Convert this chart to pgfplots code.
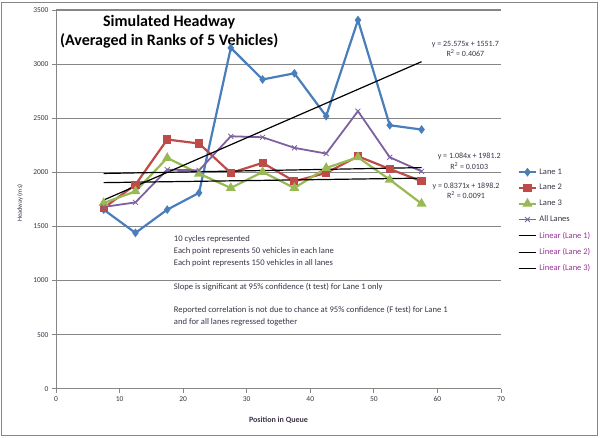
\documentclass[border=0pt]{standalone}
\usepackage{pgfplots}
\pgfplotsset{compat=1.18}
\usepackage{fontspec}
\setmainfont{Carlito}
\definecolor{laneA}{RGB}{74,126,187}
\definecolor{laneB}{RGB}{190,75,72}
\definecolor{laneC}{RGB}{152,185,84}
\definecolor{laneAll}{RGB}{125,96,160}
\definecolor{gridc}{RGB}{134,134,134}
\definecolor{legtxt}{RGB}{150,50,150}
\definecolor{txt}{RGB}{60,50,70}
\begin{document}
\begin{tikzpicture}
\begin{axis}[
  scale only axis, width=445pt, height=378.7pt,
  xmin=0, xmax=70, ymin=0, ymax=3500,
  xtick={0,10,...,70}, ytick={0,500,...,3500},
  axis x line=bottom, axis y line=left,
  axis line style={gridc, line width=1pt, -},
  x axis line style={-}, y axis line style={-},
  ymajorgrids, major grid style={gridc, line width=1.2pt},
  tick style={gridc, line width=0.8pt},
  major tick length=4pt,
  tick align=outside,
  /pgf/number format/assume math mode=true,
  /pgf/number format/1000 sep={},
  ticklabel style={font=\fontsize{7.5}{9}\selectfont, text=txt},
  xlabel={\textbf{Position in Queue}},
  xlabel style={at={(axis description cs:0.5,-0.082)}, anchor=center, font=\fontsize{8}{10}\selectfont, text=txt},
  ylabel={Headway (ms)},
  ylabel style={at={(axis description cs:-0.081,0.49)}, anchor=center, font=\fontsize{6.5}{8}\selectfont, text=txt},
  legend style={at={(1.03,0.592)}, anchor=north west, draw=none, fill=none,
    font=\fontsize{8.5}{10}\selectfont, row sep=4.7pt, text=txt},
  legend cell align=left,
  legend image code/.code={\draw[#1] (0cm,0cm) -- (0.62cm,0cm); \draw[#1,mark repeat=2,mark phase=2] plot coordinates {(0cm,0cm) (0.31cm,0cm) (0.62cm,0cm)};},
  every axis plot/.append style={line width=2.2pt},
  clip=false,
]
\addplot[laneA, mark=diamond*, mark size=2.6pt, mark options={solid, fill=laneA}] coordinates {
(7.5,1655) (12.5,1440) (17.5,1655) (22.5,1810) (27.5,3150) (32.5,2858)
(37.5,2915) (42.5,2519) (47.5,3407) (52.5,2435) (57.5,2395)};
\addlegendentry{Lane 1}
\addplot[laneB, mark=square*, mark size=3pt, mark options={solid, fill=laneB}] coordinates {
(7.5,1670) (12.5,1886) (17.5,2303) (22.5,2266) (27.5,1994) (32.5,2087)
(37.5,1917) (42.5,1994) (47.5,2148) (52.5,2031) (57.5,1917)};
\addlegendentry{Lane 2}
\addplot[laneC, mark=triangle*, mark size=3.6pt, mark options={solid, fill=laneC}] coordinates {
(7.5,1716) (12.5,1824) (17.5,2133) (22.5,1988) (27.5,1855) (32.5,2003)
(37.5,1855) (42.5,2040) (47.5,2139) (52.5,1932) (57.5,1710)};
\addlegendentry{Lane 3}
\addplot[laneAll, line width=1.8pt, mark=x, mark size=3.5pt, mark options={solid, line width=0.8pt}] coordinates {
(7.5,1680) (12.5,1722) (17.5,2025) (22.5,2018) (27.5,2333) (32.5,2324)
(37.5,2226) (42.5,2173) (47.5,2565) (52.5,2139) (57.5,2009)};
\addlegendentry{All Lanes}
\addplot[black, line width=1.2pt, no marks] coordinates {(7.5,1743.5) (57.5,3022.3)};
\addlegendentry{\textcolor{legtxt}{Linear (Lane 1)}}
\addplot[black, line width=1.2pt, no marks] coordinates {(7.5,1989.3) (57.5,2043.5)};
\addlegendentry{\textcolor{legtxt}{Linear (Lane 2)}}
\addplot[black, line width=1.2pt, no marks] coordinates {(7.5,1904.5) (57.5,1946.3)};
\addlegendentry{\textcolor{legtxt}{Linear (Lane 3)}}

\coordinate (O) at (rel axis cs:0,0);

\node[font=\fontsize{16}{19}\selectfont\bfseries, align=center, text=black] at (axis cs:17.8,3298) {Simulated Headway\\(Averaged in Ranks of 5 Vehicles)};

\node[font=\fontsize{8}{10.5}\selectfont, align=center, text=txt] at (axis cs:64.4,3141) {y = 25.575x + 1551.7\\R\textsuperscript{2} = 0.4067};
\node[font=\fontsize{8}{10.5}\selectfont, align=center, text=txt] at (axis cs:65.0,2104) {y = 1.084x + 1981.2\\R\textsuperscript{2} = 0.0103};
\node[font=\fontsize{8}{10.5}\selectfont, align=center, text=txt] at (axis cs:64.5,1830) {y = 0.8371x + 1898.2\\R\textsuperscript{2} = 0.0091};

\node[font=\fontsize{8.6}{12}\selectfont, align=left, anchor=north west, text=txt] at (axis cs:18.0,1445) {10 cycles represented\\Each point represents 50 vehicles in each lane\\Each point represents 150 vehicles in all lanes\\[11.5pt]Slope is significant at 95\% confidence (t test) for Lane 1 only\\[11.5pt]Reported correlation is not due to chance at 95\% confidence (F test) for Lane 1\\and for all lanes regressed together};
\end{axis}
\useasboundingbox ([shift={(-56pt,-48.3pt)}]O) rectangle ([shift={(544pt,388.7pt)}]O);
\draw[gridc, line width=1pt] ([shift={(-54pt,-46.3pt)}]O) rectangle ([shift={(541pt,385.7pt)}]O);
\end{tikzpicture}
\end{document}
